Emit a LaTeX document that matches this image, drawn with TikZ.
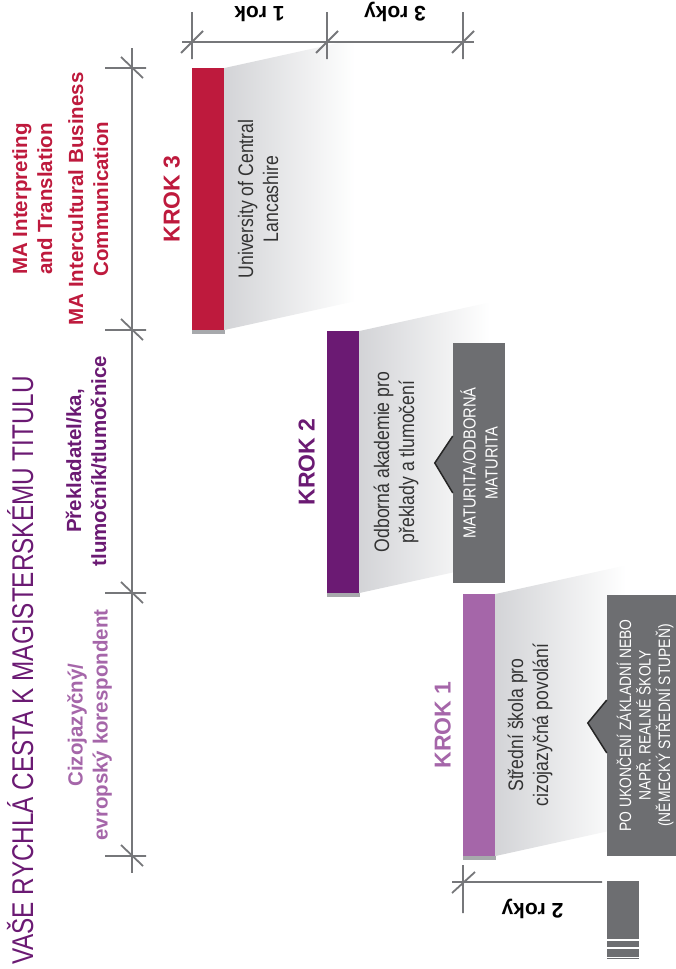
\documentclass[tikz,border=0pt]{standalone}
\usepackage{fontspec}
\setmainfont{Liberation Sans}
\newfontfamily\condfont[FakeStretch=0.84]{Liberation Sans}
\newfontfamily\titlefont[FakeStretch=0.81]{Liberation Sans}
\definecolor{krokred}{HTML}{BE1A3D}
\definecolor{krokpurple}{HTML}{6B1A73}
\definecolor{kroklilac}{HTML}{A566A9}
\definecolor{boxgray}{HTML}{6D6E71}
\definecolor{scalegray}{HTML}{76777A}
\definecolor{beamgray}{HTML}{D3D4D7}
\definecolor{shadowgray}{HTML}{A7A9AC}
\begin{document}
\begin{tikzpicture}[x=1pt,y=-1pt,
  scaleline/.style={draw=scalegray,line width=1.8},
  bar/.style={fill=#1,minimum width=32.5,minimum height=262,inner sep=0,outer sep=0},
  krok/.style={rotate=90,anchor=base,text=#1,inner sep=0,font=\bfseries\fontsize{23}{27}\selectfont},
  role/.style={rotate=90,align=center,text=#1,inner sep=0,font=\bfseries\fontsize{20.5}{25}\selectfont},
  school/.style={rotate=90,align=center,text=black!80,inner sep=0,font=\condfont\fontsize{21}{25}\selectfont},
  notebox/.style={rotate=90,fill=boxgray,text=white,align=center,inner sep=0},
  notch/.style={draw=black!85,line width=1.5},
  years/.style={rotate=180,anchor=base,inner sep=0,font=\bfseries\fontsize{21}{25}\selectfont}]
\useasboundingbox (0,0) rectangle (676,969);
\clip (0,0) rectangle (676,969);
\node[rotate=90,anchor=base,text=krokpurple,inner sep=0,font=\titlefont\fontsize{30}{36}\selectfont] (title) at (33,670.5) {VAŠE RYCHLÁ CESTA K MAGISTERSKÉMU TITULU};
\foreach \n/\c/\x/\y in {3/krokred/192/68,2/krokpurple/327/331,1/kroklilac/463/594}{
   \node[bar=\c] (bar\n) at (\x+16.25,\y+131) {};
   \shade[left color=beamgray,right color=white] (bar\n.north east) -- ++(130,-28.6) -- ++(0,262) -- (bar\n.south east) -- cycle;
   \fill[shadowgray] (bar\n.south west) rectangle ++(32.5,4);
   \node[krok=\c] (krok\n) at (\x-12.5,\y+131) {KROK \n};
}
\node[role=krokred] (ma1) at (32.2,199) {MA Interpreting\\and Translation};
\node[role=krokred] (ma2) at (88.2,199) {MA Intercultural Business\\Communication};
\node[role=krokpurple] (role2) at (86.2,461) {Překladatel/ka,\\tlumočník/tlumočnice};
\node[role=kroklilac] (role1) at (89.5,725) {Cizojazyčný/\\evropský korespondent};
\node[school] (uni) at (258,199) {University of Central\\Lancashire};
\node[school] (akad) at (396,462) {Odborná akademie pro\\překlady a tlumočení};
\node[school] (skola) at (530,725) {Střední škola pro\\cizojazyčná povolání};
\node[notebox,minimum width=240,minimum height=52,font=\condfont\fontsize{17.5}{22}\selectfont] (matur) at (479,463) {MATURITA/ODBORNÁ\\MATURITA};
\fill[boxgray] (matur.north) ++(0,-27) -- ++(-18,27) -- ++(18,30) -- cycle;
\draw[notch] (matur.north) ++(0,-27) -- ++(-18,27) -- ++(18,30);
\node[notebox,minimum width=261,minimum height=76,font=\condfont\fontsize{16.5}{19.5}\selectfont] (prior) at (645,725.5) {PO UKONČENÍ ZÁKLADNÍ NEBO\\NAPŘ. REALNÉ ŠKOLY\\(NĚMECKÝ STŘEDNÍ STUPEŇ)};
\fill[boxgray] (prior.north) ++(0,-25.5) -- ++(-19,23) -- ++(19,30) -- cycle;
\draw[notch] (prior.north) ++(0,-25.5) -- ++(-19,23) -- ++(19,30);
\fill[boxgray] (607,881) rectangle (639,959);
\foreach \y in {940,948,957.3}{
   \draw[white,line width=1.3] (607,\y) -- (639,\y);
}
\draw[scaleline] (182,42) -- (474,42);
\foreach \x in {192,327,463}{
   \draw[scaleline] (\x,12) -- (\x,59) (\x-11,53) -- (\x+11,31);
}
\draw[scaleline] (132,48) -- (132,873);
\foreach \y in {68,330,593,856}{
   \draw[scaleline] (105,\y) -- (146,\y) (121,\y-11) -- (143,\y+10);
}
\draw[scaleline] (452,882) -- (602,882) (463,865) -- (463,913) (452,893) -- (475,872);
\node[years] (rok1) at (259.5,6) {1 rok};
\node[years] (rok3) at (395,6) {3 roky};
\node[years] (rok2) at (532.5,903) {2 roky};
\end{tikzpicture}
\end{document}
